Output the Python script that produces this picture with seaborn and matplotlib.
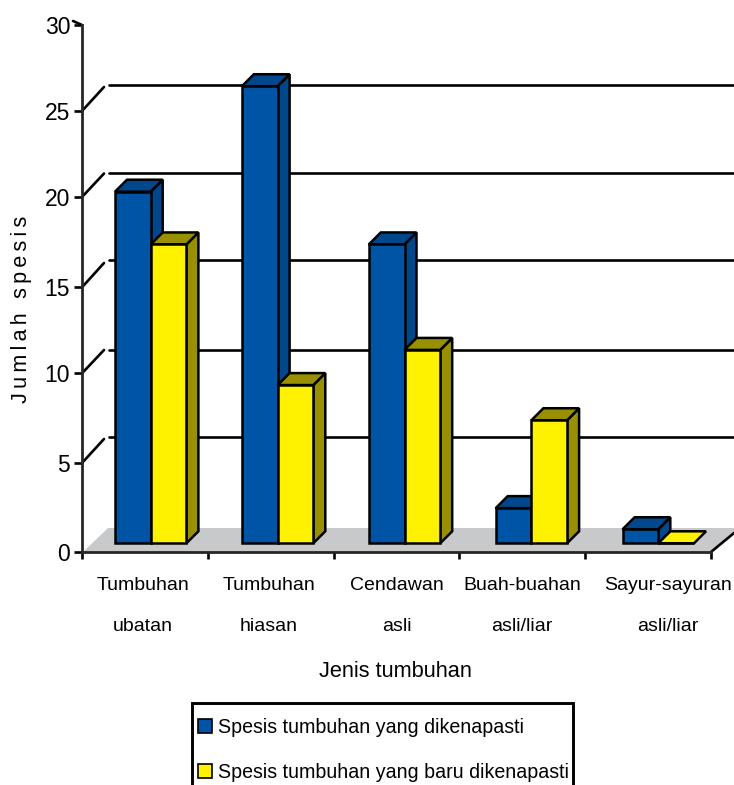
import pandas as pd
import seaborn as sns
import matplotlib.pyplot as plt
from matplotlib.patches import Polygon, Patch, Rectangle

# Data
jenis = ["Tumbuhan\nubatan", "Tumbuhan\nhiasan", "Cendawan\nasli", "Buah-buahan\nasli/liar", "Sayur-sayuran\nasli/liar"]
dikenapasti = [20, 26, 17, 2, 0.8]
baru = [17, 9, 11, 7, 0]
nama_siri = ["Spesis tumbuhan yang dikenapasti", "Spesis tumbuhan yang baru dikenapasti"]
label_y = ["0", "5", "10", "15", "20", "25", "30"]
warna = ["#0054A6", "#FFF200"]
warna_sisi = {"#0054A6": "#00478C", "#FFF200": "#989000"}

sns.set_theme(style="ticks")
plt.rcParams["font.family"] = ["Liberation Sans", "DejaVu Sans"]
plt.rcParams["text.color"] = "black"
plt.rcParams["axes.labelcolor"] = "black"
plt.rcParams["xtick.labelcolor"] = "black"
plt.rcParams["ytick.labelcolor"] = "black"

W, H = 734, 785
fig = plt.figure(figsize=(W / 100, H / 100), dpi=100)
# axis lines sit at x=82 and y=552, 30 is at y=24.6
ax = fig.add_axes([82 / W, (H - 552) / H, (W - 82) / W, 527.4 / H])

df = pd.DataFrame({
    "jenis": jenis * 2,
    "nilai": dikenapasti + baru,
    "siri": [nama_siri[0]] * 5 + [nama_siri[1]] * 5,
})
sns.barplot(ax=ax, data=df, x="jenis", y="nilai", hue="siri", palette=warna, width=0.5627, gap=0,
            edgecolor="black", linewidth=1.8, saturation=1, legend=False, errorbar=None)
batang = list(ax.patches)

# pixel <-> data helpers, one category is 126.9 px wide
PX_X = 126.9
PX_Y = 527.4 / 30


def dx(px):
    return (px - 150.7) / PX_X


def dy(px):
    return (552 - px) / PX_Y


ax.set_xlim(dx(82), dx(W))
ax.set_ylim(0, 30)

# floor
lantai = [(dx(83), dy(552)), (dx(108), dy(528)), (dx(W), dy(528)), (dx(W), dy(533)), (dx(711), dy(552))]
ax.add_patch(Polygon(lantai, closed=True, fc="#C8C9CB", ec="none", zorder=1, clip_on=False))
ax.plot([dx(711), dx(W)], [dy(552), dy(533)], color="black", lw=1.9, zorder=2, clip_on=False)

# back wall grid lines
tick_px = [552, 463, 373.3, 287.3, 197, 111, 25]
grid_px = [437, 350, 260, 173.5, 85]
slant_px = [439, 350, 263, 173.5, 87]
for tp, gp, sp in zip(tick_px[1:6], grid_px, slant_px):
    ax.plot([dx(82), dx(104)], [dy(tp), dy(sp)], color="black", lw=1.9, zorder=1.5)
    ax.plot([dx(109), dx(W)], [dy(gp)] * 2, color="black", lw=1.9, zorder=1.5)
ax.plot([dx(73), dx(82)], [dy(21), dy(25)], color="black", lw=1.9, clip_on=False, zorder=2)

# 3D faces of the bars, taken from the bars seaborn drew
alas = 8.7 / PX_Y
dalam_x = 12 / PX_X
dalam_y = 12 / PX_Y
for i, p in enumerate(batang):
    lapis = 3 if i < 5 else 4
    warna_bar = warna[0] if i < 5 else warna[1]
    gelap = warna_sisi[warna_bar]
    x0, x1 = p.get_x(), p.get_x() + p.get_width()
    atas = p.get_height() + alas
    p.set_y(alas)
    p.set_zorder(lapis + 0.2)
    if p.get_height() == 0:
        muka = [(x0, alas), (x0 + dalam_x, alas + dalam_y), (x1 + dalam_x, alas + dalam_y), (x1, alas)]
        ax.add_patch(Polygon(muka, closed=True, fc=warna_bar, ec="black", lw=1.8, zorder=lapis + 0.1))
        continue
    sisi = [(x1, alas), (x1 + dalam_x, alas + dalam_y), (x1 + dalam_x, atas + dalam_y), (x1, atas)]
    puncak = [(x0, atas), (x0 + dalam_x, atas + dalam_y), (x1 + dalam_x, atas + dalam_y), (x1, atas)]
    ax.add_patch(Polygon(sisi, closed=True, fc=gelap, ec="black", lw=1.8, zorder=lapis + 0.1))
    ax.add_patch(Polygon(puncak, closed=True, fc=gelap, ec="black", lw=1.8, zorder=lapis + 0.1))

# axes
sns.despine(ax=ax, top=True, right=True)
ax.spines["left"].set_linewidth(2)
ax.spines["left"].set_zorder(6)
ax.spines["bottom"].set_linewidth(2)
ax.spines["bottom"].set_zorder(6)
ax.spines["bottom"].set_bounds(dx(82), dx(711))
ax.set_yticks([dy(p) for p in tick_px], label_y)
ax.tick_params(axis="y", length=5.5, width=1.9, labelsize=16.5, pad=3, color="black")

# labels sit between the tick marks
ax.set_xticks([dx(142.8), dx(269), dx(397), dx(522), dx(668)], jenis)
ax.tick_params(axis="x", which="major", length=0, labelsize=14, pad=18)
for t in ax.get_xticklabels():
    t.set_linespacing(2.85)
ax.set_xticks([dx(82 + i * 125.8) for i in range(6)], minor=True)
ax.tick_params(axis="x", which="minor", length=5, width=1.9, color="black")

ax.set_xlabel("Jenis tumbuhan", fontsize=15.7, x=(395.5 - 82) / (W - 82), labelpad=18.5)
ax.set_ylabel("\u2009".join("Jumlah spesis"), fontsize=15.5, y=(552 - 309) / 527.4, labelpad=9)

# legend runs off the bottom edge, so the frame is its own rectangle
fig.add_artist(Rectangle((192 / W, -10 / H), 381 / W, (H - 703 + 10) / H, transform=fig.transFigure,
                         fc="white", ec="black", lw=2.1))
handles = [Patch(fc=warna[0], ec="black", lw=1.2, label=nama_siri[0]),
           Patch(fc=warna[1], ec="black", lw=1.2, label=nama_siri[1])]
fig.legend(handles=handles, loc="upper left", bbox_to_anchor=(198 / W, (H - 718) / H), borderaxespad=0,
           fontsize=14.1, frameon=False, handlelength=0.71, handleheight=0.71,
           handletextpad=0.3, borderpad=0, labelspacing=1.33)

plt.savefig("out.png", dpi=100)
